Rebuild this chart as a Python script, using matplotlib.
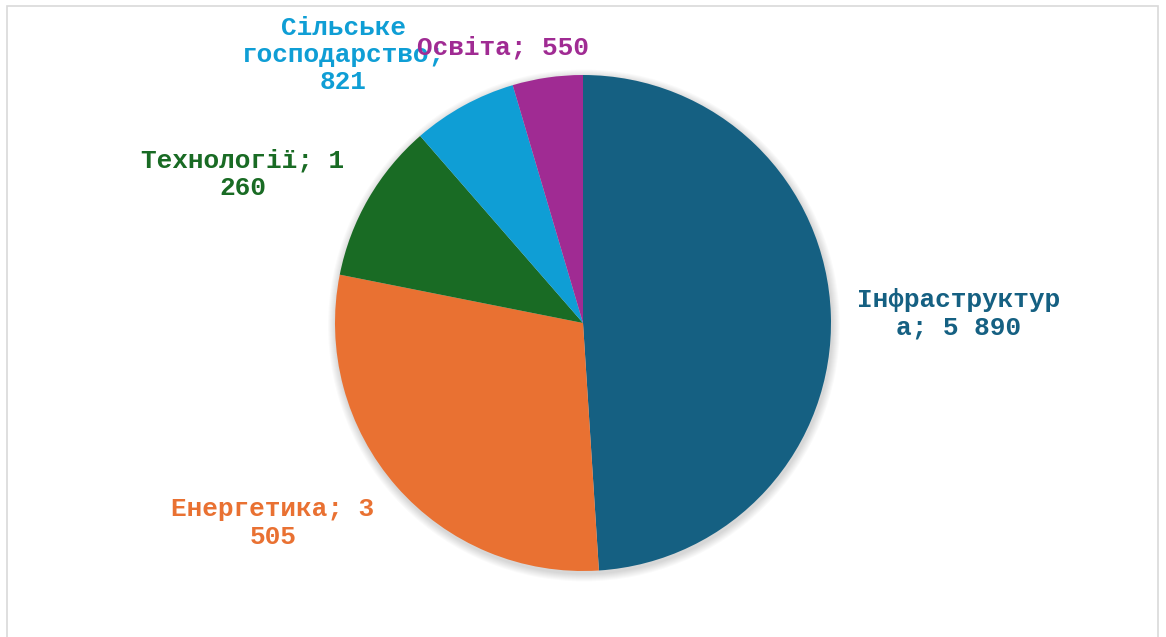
import textwrap
import matplotlib
matplotlib.use("Agg")
import matplotlib.pyplot as plt
from matplotlib.patches import Circle, Rectangle

categories = ["Інфраструктура", "Енергетика", "Технології", "Сільське господарство", "Освіта"]
values = [5890, 3505, 1260, 821, 550]
colors = ["#156082", "#E97132", "#196B24", "#0F9ED5", "#A02B93"]

W, H = 1166, 637
CX, CY, R = 583, 323, 248
# label centres in pixel coordinates (x, y from top)
label_pos = [(959, 314), (273, 523), (243, 174), (343, 55), (503, 48)]

fig = plt.figure(figsize=(W / 100, H / 100), dpi=100)
ax = fig.add_axes([0, 0, 1, 1])

# soft shadow
for i in range(8):
    ax.add_patch(Circle((0.004, -0.01), 1.0 + 0.004 * (i + 1), color="black",
                        alpha=0.018, linewidth=0, zorder=0))

wedges, _ = ax.pie(values, colors=colors, startangle=90, counterclock=False,
                   radius=1.0, center=(0, 0), wedgeprops=dict(linewidth=0))
for w in wedges:
    w.set_zorder(2)

ax.set_xlim(-CX / R, (W - CX) / R)
ax.set_ylim(-(H - CY) / R, CY / R)
ax.set_aspect("equal")
ax.axis("off")

# frame
fig.patches.append(Rectangle((7 / W, -0.01), (1158 - 7) / W, 1.01 - 6 / H,
                             transform=fig.transFigure, fill=False,
                             edgecolor="#D9D9D9", linewidth=1.2))

for cat, val, col, (px, py) in zip(categories, values, colors, label_pos):
    txt = f"{cat}; {val:,}".replace(",", " ")
    txt = "\n".join(textwrap.wrap(txt, width=13))
    ax.text((px - CX) / R, (CY - py) / R, txt, ha="center", va="center",
            color=col, fontsize=18.8, fontweight="bold",
            family=["Liberation Mono", "DejaVu Sans Mono"],
            linespacing=1.17, zorder=5)

fig.savefig("out.png", dpi=100)
